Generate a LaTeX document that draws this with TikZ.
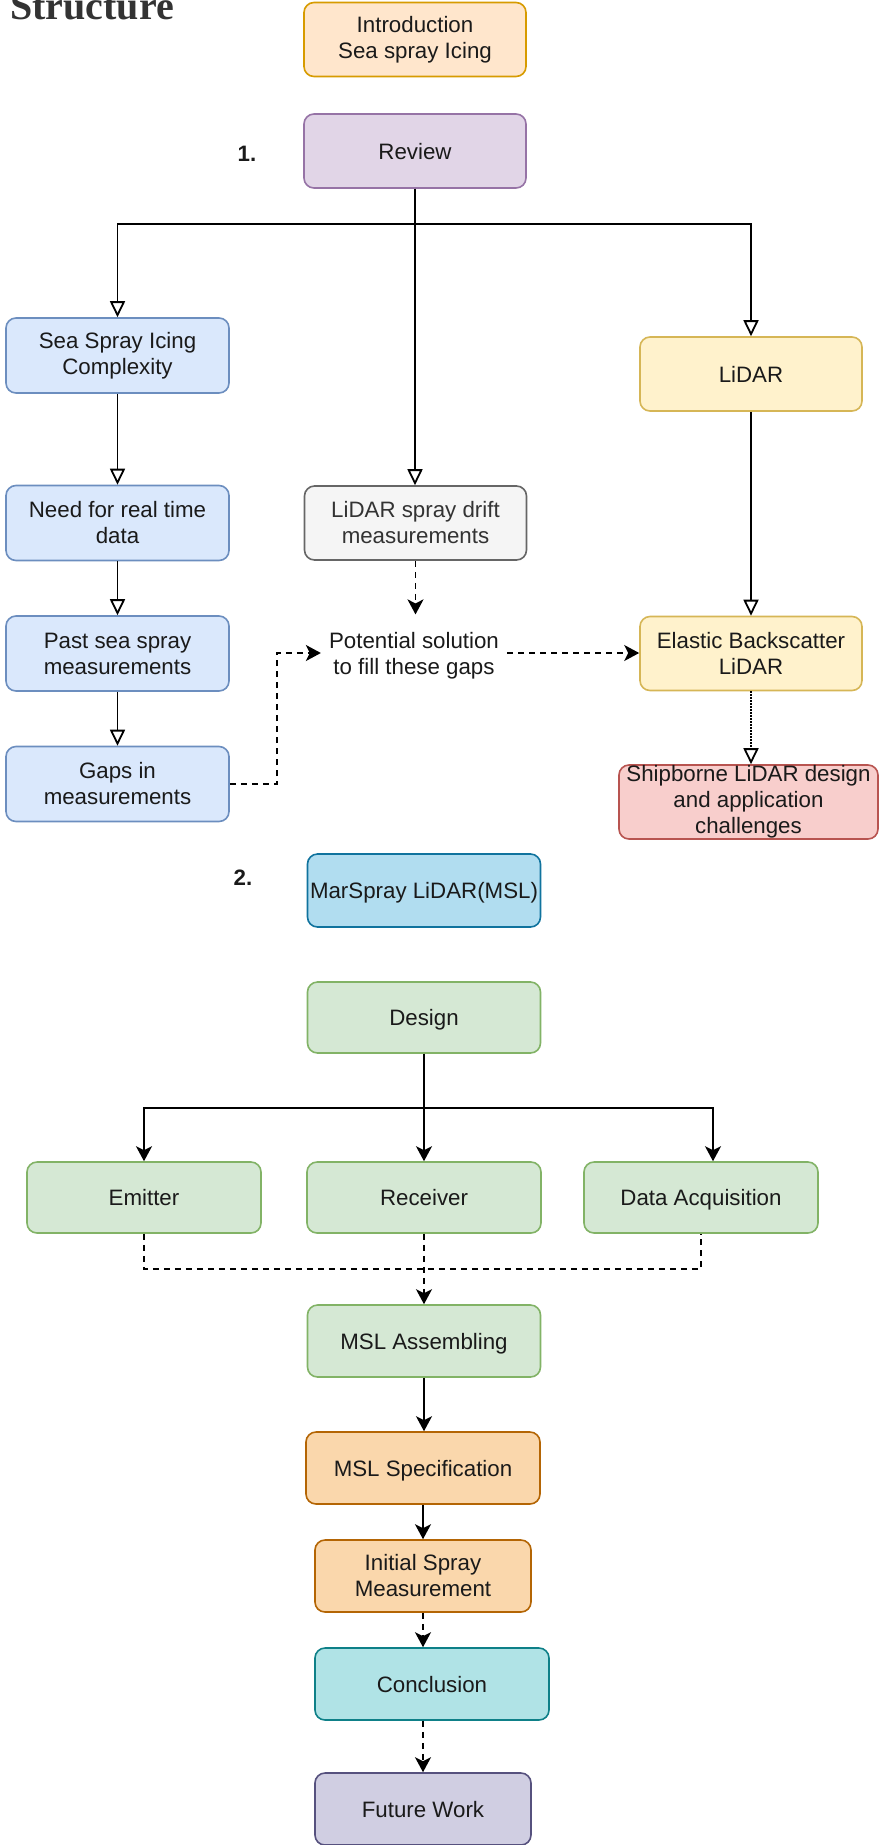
\documentclass[tikz,border=0pt]{standalone}
\usepackage{fontspec}
\setmainfont{Liberation Sans}
\newfontfamily\titlefont{Liberation Serif}
\usetikzlibrary{arrows.meta,calc}

\definecolor{introfill}{HTML}{FFE6CC}\definecolor{introdraw}{HTML}{D79B00}
\definecolor{revfill}{HTML}{E1D5E7}\definecolor{revdraw}{HTML}{9673A6}
\definecolor{bluefill}{HTML}{DAE8FC}\definecolor{bluedraw}{HTML}{6C8EBF}
\definecolor{greyfill}{HTML}{F5F5F5}\definecolor{greydraw}{HTML}{666666}
\definecolor{yelfill}{HTML}{FFF2CC}\definecolor{yeldraw}{HTML}{D6B656}
\definecolor{redfill}{HTML}{F8CECC}\definecolor{reddraw}{HTML}{B85450}
\definecolor{mslfill}{HTML}{B1DDF0}\definecolor{msldraw}{HTML}{10739E}
\definecolor{grnfill}{HTML}{D5E8D4}\definecolor{grndraw}{HTML}{82B366}
\definecolor{orgfill}{HTML}{FAD7AC}\definecolor{orgdraw}{HTML}{B46504}
\definecolor{tealfill}{HTML}{B0E3E6}\definecolor{tealdraw}{HTML}{0E8088}
\definecolor{purfill}{HTML}{D0CEE2}\definecolor{purdraw}{HTML}{56517E}
\definecolor{ink}{HTML}{1A1A1A}
\definecolor{darkgrey}{HTML}{333333}

\begin{document}
\begin{tikzpicture}[x=1pt,y=-1pt,
  box/.style={rectangle, rounded corners=10pt, draw, line width=1.6pt,
    minimum width=222pt, minimum height=74pt, align=center, inner sep=2pt,
    text=ink, font=\fontsize{22.3pt}{26pt}\selectfont},
  oneline/.style={text height=16pt, text depth=0pt},
  intro/.style={box, fill=introfill, draw=introdraw},
  rev/.style={box, fill=revfill, draw=revdraw},
  bluebox/.style={box, fill=bluefill, draw=bluedraw, minimum width=223pt, minimum height=75pt},
  greybox/.style={box, fill=greyfill, draw=greydraw, text=darkgrey},
  yelbox/.style={box, fill=yelfill, draw=yeldraw},
  redbox/.style={box, fill=redfill, draw=reddraw, minimum width=259pt},
  mslbox/.style={box, fill=mslfill, draw=msldraw, minimum width=233pt, minimum height=73pt},
  grnbox/.style={box, fill=grnfill, draw=grndraw, minimum width=233pt, minimum height=71pt},
  orgbox/.style={box, fill=orgfill, draw=orgdraw, minimum height=72pt},
  tealbox/.style={box, fill=tealfill, draw=tealdraw, minimum width=234pt, minimum height=72pt},
  purbox/.style={box, fill=purfill, draw=purdraw, minimum width=216pt, minimum height=72pt},
  plain/.style={align=center, text=ink, font=\fontsize{22.3pt}{26pt}\selectfont},
  numlabel/.style={text=ink, font=\bfseries\fontsize{22.3pt}{26pt}\selectfont},
  conn/.style={line width=1.8pt, black},
  opentri/.style={conn, -{Triangle[open, length=16pt, width=15pt, fill=white]}},
  solidarrow/.style={conn, -{Stealth[length=15pt, width=16pt, inset=4pt]}},
  dashline/.style={conn, dash pattern=on 6pt off 5pt},
  dasharrow/.style={dashline, -{Stealth[length=15pt, width=16pt, inset=4pt]}},
  dotopentri/.style={conn, dash pattern=on 1.8pt off 1.2pt,
    -{Triangle[open, length=16pt, width=15pt, fill=white]}}
]
\fill[white] (0,0) rectangle (879,1845);
\useasboundingbox (0,0) rectangle (879,1845);

% heading
\node[anchor=base west, inner sep=0pt, text=darkgrey,
      font=\titlefont\bfseries\fontsize{40pt}{44pt}\selectfont] (title) at (10,19) {Structure};

% part 1: review
\node[intro] (intro) at (415,39.5) {Introduction\\Sea spray Icing};
\node[rev, oneline] (review) at (415,151) {Review};
\node[numlabel, oneline] (one) at (247,153) {1.};

\node[bluebox] (sea) at (117.5,355.5) {Sea Spray Icing\\Complexity};
\node[bluebox] (need) at (117.5,523) {Need for real time\\data};
\node[bluebox] (past) at (117.5,653.5) {Past sea spray\\measurements};
\node[bluebox] (gaps) at (117.5,784) {Gaps in\\measurements};

\node[greybox] (drift) at (415.5,523) {LiDAR spray drift\\measurements};
\node[plain, inner xsep=8pt, inner ysep=18pt] (pot) at (414,656) {Potential solution\\to fill these gaps};

\node[yelbox, oneline] (lidar) at (751,374) {LiDAR};
\node[yelbox] (elastic) at (751,653.5) {Elastic Backscatter\\LiDAR};
\node[redbox, inner sep=0pt] (ship) at (748.5,802) {Shipborne LiDAR design\\and application\\challenges};

% part 2: MarSpray LiDAR
\node[numlabel, oneline] (two) at (243,877) {2.};
\node[mslbox, oneline] (msl) at (424,890.5) {MarSpray LiDAR(MSL)};

\node[grnbox, oneline] (design) at (424,1017.5) {Design};
\node[grnbox, oneline, minimum width=234pt] (emitter) at (144,1197.5) {Emitter};
\node[grnbox, oneline, minimum width=234pt] (receiver) at (424,1197.5) {Receiver};
\node[grnbox, oneline, minimum width=234pt] (daq) at (701,1197.5) {Data Acquisition};
\node[grnbox, oneline, minimum height=72pt] (assemb) at (424,1341) {MSL Assembling};
\node[orgbox, oneline, minimum width=234pt] (spec) at (423,1468) {MSL Specification};
\node[orgbox, minimum width=216pt] (initial) at (423,1576) {Initial Spray\\Measurement};
\node[tealbox, oneline] (concl) at (432,1684) {Conclusion};
\node[purbox, oneline] (future) at (423,1809) {Future Work};

% review branches
\draw[opentri] (review.south) -- ++(0,35.5) -| (sea.north);
\draw[opentri] (review.south) -- ++(0,35.5) -| (lidar.north);
\draw[opentri] (review.south) -- (review.south |- drift.north);

\draw[opentri] (sea) -- (need);
\draw[opentri] (need) -- (past);
\draw[opentri] (past) -- (gaps);

\draw[opentri] (lidar) -- (elastic);
\draw[dotopentri] (elastic.south) -- (elastic.south |- ship.north);

\draw[dasharrow] (drift.south) -- (drift.south |- pot.north);
\draw[dasharrow] (gaps.east) -- ++(47,0) |- ([yshift=3pt]pot.west);
\draw[dasharrow] ([yshift=3pt]pot.east) -- ([yshift=3pt]pot.east -| elastic.west);

% design branches
\draw[solidarrow] (design.south) -- ++(0,54) -| (emitter.north);
\draw[solidarrow] (design.south) -- ++(0,54) -| ([xshift=12pt]daq.north);
\draw[solidarrow] (design.south) -- (receiver.north);

\coordinate (bus) at (424,1269);
\draw[dashline] (emitter.south) |- (bus) -| (daq.south);
\draw[dasharrow] (receiver.south) -- (assemb.north);

\draw[solidarrow] (assemb.south) -- (assemb.south |- spec.north);
\draw[solidarrow] (spec.south) -- (spec.south |- initial.north);
\draw[dasharrow] (initial.south) -- (initial.south |- concl.north);
\draw[dasharrow] (concl.south -| future.north) -- (future.north);
\end{tikzpicture}
\end{document}
